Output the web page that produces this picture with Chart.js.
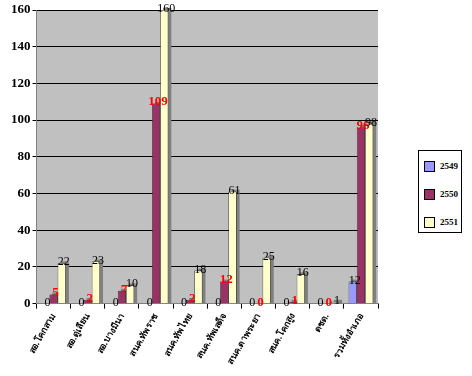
<!DOCTYPE html>
<html>
<head>
<meta charset="utf-8">
<script src="https://cdn.jsdelivr.net/npm/chart.js@4.4.0/dist/chart.umd.min.js"></script>
<style>
body { margin: 0; background: #fff; }
#wrap { position: relative; width: 472px; height: 376px; }
#legend { position: absolute; left: 418px; top: 150px; width: 42px; height: 81px; border: 1px solid #000; background: #fff;
  font: bold 9px "Liberation Serif", serif; }
#legend div { position: absolute; left: 5px; height: 10px; line-height: 10px; }
#legend span { display: inline-block; width: 9px; height: 9px; border: 1px solid #000; vertical-align: top; margin-right: 5px; }
</style>
</head>
<body>
<div id="wrap">
<canvas id="mycanvas1" width="472" height="376"></canvas>
<div id="legend"></div>
</div>
<script>
var places = ["สอ.โคกสาม", "สอ.ดู่เลียน", "สอ.บางมีนา", "สนค.ทัพราช", "สนค.ทัพไทย", "สนค.ทัพเสด็จ", "สนค.ตาพระยา", "สนค.โคกสูง", "ตชด.", "รวมทั้งอำเภอ"];
var y2549 = [0, 0, 0, 0, 0, 0, 0, 0, 0, 12];
var y2550 = [5, 2, 7, 109, 2, 12, 0, 1, 0, 96];
var y2551 = [22, 23, 10, 160, 18, 61, 25, 16, 1, 98];
var years = ["2549", "2550", "2551"];
var colors = ["#9999ff", "#993366", "#ffffcc"];
var labelColors = ["#000", "#ff0000", "#000"];

var legend = document.getElementById("legend");
for (var i = 0; i < years.length; i++) {
	var d = document.createElement("div");
	d.style.top = (10 + i * 28) + "px";
	d.innerHTML = '<span style="background:' + colors[i] + '"></span>' + years[i];
	legend.appendChild(d);
}

// grey side/back shadow behind every bar, like the old 3D look
var shadowPlugin = {
	id: "shadow",
	beforeDatasetsDraw: function(chart) {
		var ctx = chart.ctx;
		ctx.save();
		ctx.fillStyle = "#808080";
		chart.data.datasets.forEach(function(ds, di) {
			chart.getDatasetMeta(di).data.forEach(function(bar) {
				var w = bar.width;
				var h = bar.base - bar.y;
				if (h < 1) return;
				ctx.fillRect(bar.x - w / 2 + 3, bar.y - 2, w, h + 2);
			});
		});
		ctx.restore();
	}
};

var valuePlugin = {
	id: "values",
	afterDatasetsDraw: function(chart) {
		var ctx = chart.ctx;
		ctx.save();
		ctx.textAlign = "center";
		ctx.textBaseline = "bottom";
		chart.data.datasets.forEach(function(ds, di) {
			ctx.fillStyle = labelColors[di];
			ctx.font = (di == 1 ? "bold 13px" : "12px") + " 'Liberation Serif', serif";
			chart.getDatasetMeta(di).data.forEach(function(bar, i) {
				ctx.fillText(ds.data[i], bar.x + 2, bar.y + 5);
			});
		});
		ctx.restore();
	}
};

var chartdata = {
	labels: places,
	datasets: years.map(function(y, i) {
		return {
			label: y,
			data: [y2549, y2550, y2551][i],
			backgroundColor: colors[i],
			borderColor: "#000",
			borderWidth: 0.6
		};
	})
};

var ctx = document.getElementById("mycanvas1");
var BarGraph = new Chart(ctx, {
	type: "bar",
	data: chartdata,
	plugins: [shadowPlugin, valuePlugin, {
		id: "bg",
		beforeDraw: function(chart) {
			var a = chart.chartArea;
			chart.ctx.fillStyle = "#c0c0c0";
			chart.ctx.fillRect(a.left, a.top, a.right - a.left, a.bottom - a.top);
		}
	}],
	options: {
		responsive: false,
		animation: false,
		layout: { padding: { left: 9, right: 94, top: 10, bottom: 7 } },
		plugins: { legend: { display: false }, tooltip: { enabled: false } },
		datasets: { bar: { categoryPercentage: 0.72, barPercentage: 1 } },
		scales: {
			x: {
				grid: { drawOnChartArea: false, drawTicks: true, tickLength: 5, color: "#000" },
				border: { color: "#808080" },
				ticks: {
					color: "#000",
					minRotation: 60, maxRotation: 60,
					font: { family: "'Noto Sans', sans-serif", size: 9, weight: "bold" }
				}
			},
			y: {
				min: 0, max: 160,
				grid: { color: "#000", tickLength: 4 },
				border: { color: "#808080" },
				ticks: {
					stepSize: 20, color: "#000", padding: 2,
					font: { family: "'Liberation Serif', serif", size: 13, weight: "bold" }
				}
			}
		}
	}
});
</script>
</body>
</html>
